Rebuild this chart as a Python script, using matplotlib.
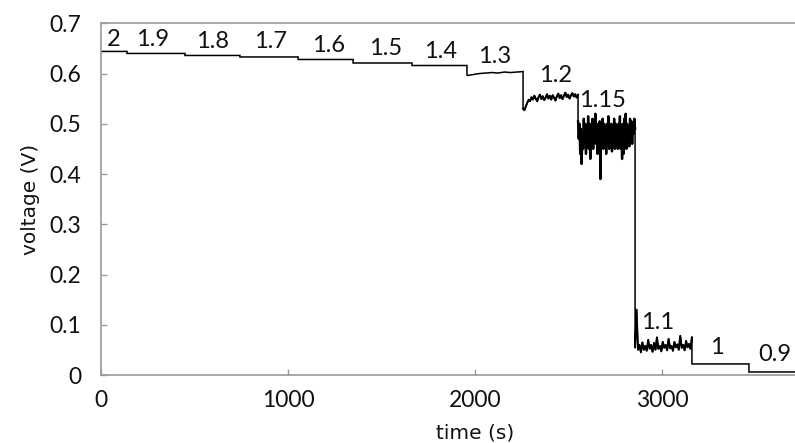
import numpy as np
import matplotlib
matplotlib.use("Agg")
import matplotlib.pyplot as plt

# ---- data ----
seg_labels = ["2", "1.9", "1.8", "1.7", "1.6", "1.5", "1.4", "1.3", "1.2", "1.15", "1.1", "1", "0.9"]
seg_start = [0, 139, 449, 743, 1054, 1348, 1663, 1957, 2257, 2551, 2856, 3160, 3465]
seg_end = [139, 449, 743, 1054, 1348, 1663, 1957, 2257, 2551, 2856, 3160, 3465, 4000]
seg_level = [0.644, 0.640, 0.636, 0.633, 0.628, 0.621, 0.616, 0.602, 0.553, 0.48, 0.057, 0.022, 0.006]

# noisy traces (hand-read samples across each segment)
trace_13 = [0.596, 0.598, 0.600, 0.601, 0.602, 0.601, 0.603, 0.602, 0.603, 0.604]
trace_12 = [0.530, 0.527, 0.535, 0.542, 0.548, 0.545, 0.553, 0.548, 0.556, 0.550,
            0.545, 0.553, 0.558, 0.549, 0.555, 0.547, 0.552, 0.559, 0.550, 0.556,
            0.548, 0.557, 0.552, 0.546, 0.555, 0.560, 0.551, 0.557, 0.549, 0.556,
            0.562, 0.553, 0.558, 0.550, 0.557, 0.561, 0.554, 0.559, 0.552, 0.558]
trace_115 = [0.505, 0.47, 0.50, 0.44, 0.49, 0.42, 0.48, 0.45, 0.51, 0.46,
             0.50, 0.44, 0.49, 0.47, 0.515, 0.45, 0.50, 0.43, 0.48, 0.46,
             0.51, 0.45, 0.49, 0.47, 0.52, 0.46, 0.50, 0.44, 0.49, 0.47,
             0.505, 0.39, 0.48, 0.46, 0.51, 0.45, 0.50, 0.47, 0.49, 0.44,
             0.50, 0.46, 0.515, 0.45, 0.49, 0.47, 0.50, 0.445, 0.49, 0.46,
             0.51, 0.45, 0.50, 0.47, 0.49, 0.45, 0.50, 0.46, 0.515, 0.45,
             0.49, 0.43, 0.50, 0.44, 0.51, 0.46, 0.52, 0.45, 0.50, 0.47,
             0.49, 0.455, 0.51, 0.47, 0.505, 0.46, 0.50, 0.48, 0.51, 0.49]
trace_11 = [0.055, 0.13, 0.050, 0.060, 0.045, 0.065, 0.050, 0.058, 0.048, 0.070,
            0.052, 0.060, 0.046, 0.064, 0.050, 0.075, 0.052, 0.058, 0.047, 0.066,
            0.054, 0.060, 0.049, 0.072, 0.053, 0.058, 0.048, 0.066, 0.055, 0.061,
            0.050, 0.078, 0.054, 0.060, 0.049, 0.068, 0.055, 0.062, 0.052, 0.075]
traces = {"1.3": trace_13, "1.2": trace_12, "1.15": trace_115, "1.1": trace_11}
noisy = ["1.2", "1.15", "1.1"]

label_x = [70, 278, 599, 909, 1219, 1524, 1818, 2107, 2433, 2684, 2979, 3294, 3605]
label_y = [0.667, 0.668, 0.663, 0.663, 0.656, 0.649, 0.643, 0.633, 0.596, 0.546, 0.104, 0.054, 0.040]

# ---- build the trace ----
t_all, v_all = [], []
seg_t = {}
for lab, s, e, lvl in zip(seg_labels, seg_start, seg_end, seg_level):
    if lab in traces:
        vals = traces[lab]
        tt = np.linspace(s, e, len(vals))
        seg_t[lab] = tt
        t_all.extend(tt)
        v_all.extend(vals)
    else:
        t_all.extend([s, e])
        v_all.extend([lvl, lvl])

fig = plt.figure(figsize=(7.95, 4.43), dpi=100)
ax = fig.add_axes([101 / 795, 1 - 375 / 443, 748 / 795, (375 - 23.3) / 443])
ax.plot(t_all, v_all, color="black", lw=1.1, solid_joinstyle="miter")
for lab in noisy:
    ax.plot(seg_t[lab], traces[lab], color="black", lw=1.7 if lab == "1.15" else 1.4)

for lab, x, y in zip(seg_labels, label_x, label_y):
    ax.text(x, y, lab, ha="center", va="center", fontsize=17, family="Lato", color="#111111")

ax.set_xlim(0, 4000)
ax.set_ylim(0, 0.7)
ax.set_xticks([0, 1000, 2000, 3000])
ax.set_yticks(np.arange(0, 0.71, 0.1))
ax.set_yticklabels(["0", "0.1", "0.2", "0.3", "0.4", "0.5", "0.6", "0.7"])
ax.tick_params(axis="both", direction="in", length=4, color="#999999", labelsize=16.5, width=1)
ax.tick_params(axis="y", pad=14)
ax.tick_params(axis="x", pad=11)
for lbl in ax.get_xticklabels() + ax.get_yticklabels():
    lbl.set_family("Lato")
    lbl.set_color("#111111")

for side in ["left", "bottom", "top"]:
    ax.spines[side].set_color("#999999")
    ax.spines[side].set_linewidth(1.2)
ax.spines["right"].set_visible(False)

ax.set_xlabel("time (s)", fontsize=14.5, family="DejaVu Sans", labelpad=9, color="#111111")
ax.set_ylabel("voltage (V)", fontsize=14.5, family="DejaVu Sans", labelpad=7, color="#111111")

fig.savefig("out.png", dpi=100)
